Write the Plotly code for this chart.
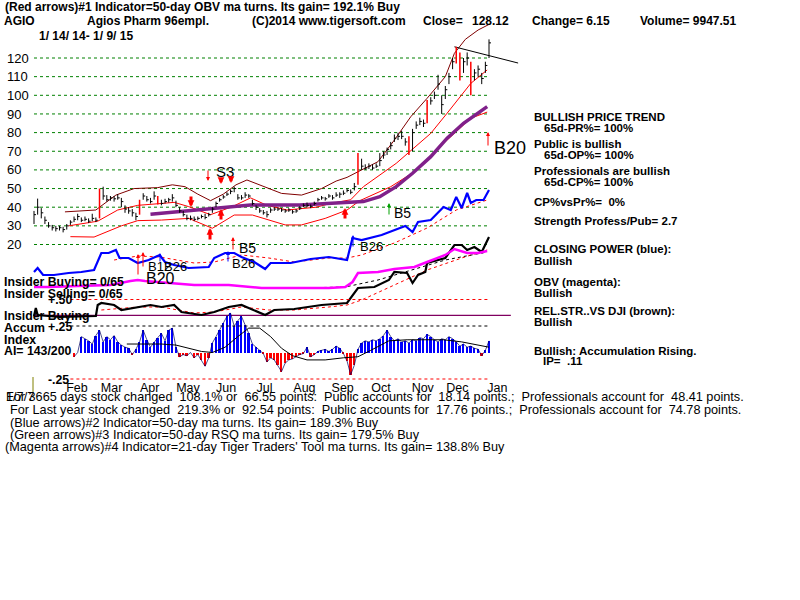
import plotly.graph_objects as go

FONT = "Liberation Sans, Arial, sans-serif"
NB = "\u00a0"

# ---------------- data ----------------
bar_days = list(range(0, 251, 2))
close = [36, 40, 37, 33, 30, 29, 28.5, 29, 28, 30,
         32, 33.5, 35, 33, 33.5, 32.5, 34, 33, 45, 46,
         44, 45, 44.5, 45, 43, 39, 38, 37, 35, 42,
         46, 44, 43, 46, 44, 42, 43, 44, 45, 41,
         38, 36, 34, 34, 33.5, 34, 35, 34.5, 36, 39,
         42, 44, 45.5, 47, 48.5, 50, 45, 45, 46.5, 46,
         42, 40, 38, 37, 36, 38.5, 39, 39, 38.5, 38,
         38.5, 37.5, 38, 39.5, 41, 41, 40.5, 42, 44, 45,
         44.5, 46, 45, 46.5, 47, 47.5, 49, 48, 51, 63,
         62, 61, 62, 61, 62, 65, 68, 71, 73, 77,
         78, 78, 75, 70, 80, 84, 86, 85, 96, 97,
         100, 106, 95, 103, 110, 118, 124, 110, 118, 120,
         108, 112, 114, 109, 116, 128.12]
high = [38, 44.6, 39.5, 35, 32, 30.5, 30, 30, 29.5, 31,
        33, 35, 36.5, 34.5, 35, 34, 36.5, 34.5, 50, 51,
        46.5, 46, 46, 47, 45, 41, 40, 39, 37, 44,
        47.5, 46, 45, 48.5, 46, 44, 44.5, 45, 47, 43.5,
        40, 38, 36, 35.5, 35, 35, 36, 36.5, 37, 40,
        43, 45, 46.5, 48, 49.5, 51, 47, 46.5, 48, 47,
        44, 41, 39.5, 38.5, 38, 39.5, 40, 40, 39.5, 39,
        39.5, 38.5, 39, 40.5, 42, 42.5, 41.5, 43, 45, 46,
        45.5, 47, 46.5, 48, 48, 49, 50, 49.5, 53, 69,
        66, 63, 63.5, 63, 63.5, 69, 70, 72, 75, 79,
        80, 81, 77, 78, 82, 86, 88, 87, 97.5, 99,
        102, 111, 100, 105, 112, 120, 126, 123, 120, 123,
        118, 114, 116, 112, 118, 130]
low = [31, 36, 34, 31, 29, 27.5, 27, 27.5, 26.5, 28,
       30.5, 32, 33, 32, 32.5, 31.5, 32.5, 32, 34, 44,
       43, 43.5, 43, 44, 40, 37, 36.5, 35, 33, 36,
       44, 43, 42, 44, 41.5, 41, 42, 42.5, 43, 40,
       37, 35, 33, 33, 32.5, 33, 34, 33.5, 35, 37,
       40, 43, 44.5, 46, 47, 48, 44, 44, 45, 45,
       41, 38.5, 37, 36, 34.5, 37, 38, 38, 37.5, 37,
       37.5, 36.5, 37, 38.5, 40, 40, 39.5, 41, 43, 44,
       43.5, 45, 44, 45.5, 45, 46.5, 48, 47, 49, 52,
       60, 60, 60.5, 60, 61, 62, 66, 68, 71, 75,
       76, 76.5, 73, 68, 70, 82, 84, 83, 85, 95,
       98, 103, 90, 98, 106, 114, 117, 108, 112, 116,
       100, 108, 110, 106, 112, 120]
red_days = [36, 58, 68, 178, 206, 216, 232, 234, 240]

month_names = ["Feb", "Mar", "Apr", "May", "Jun", "Jul", "Aug", "Sep", "Oct", "Nov", "Dec", "Jan"]
month_start = [14, 33, 54, 75, 96, 117, 139, 160, 181, 204, 223, 245]
price_ticks = [20, 30, 40, 50, 60, 70, 80, 90, 100, 110, 120]

upper_x = [17, 34, 36, 45, 55, 68, 76, 83, 90, 97, 104, 111, 117, 126, 136, 147, 158, 166, 172, 178, 189, 198, 207, 216, 226, 231, 237, 244, 250]
upper_y = [37.5, 38.5, 40, 46.5, 50, 50.5, 52, 51, 47, 43.5, 47, 52, 54.6, 51, 47.4, 46.5, 50, 54, 56, 59, 64.4, 76, 88.5, 98.4, 110, 122.5, 130, 135, 138]
mid_x = [19, 35, 46, 57, 70, 77, 85, 97, 109, 119, 128, 139, 155, 163, 174, 181, 199, 218, 227, 240, 249]
mid_y = [30, 32.5, 38.5, 41, 42, 42.6, 40.3, 36, 40.3, 45, 41, 38.5, 40, 42, 44, 51, 63.5, 79.6, 90.4, 106.4, 113.6]
lowb_x = [20, 33, 48, 57, 70, 85, 98, 110, 120, 138, 147, 160, 172, 179, 196, 209, 227, 240, 249]
lowb_y = [24.2, 24, 30, 32.8, 33.1, 34, 28.7, 35.8, 35.8, 30.5, 30.5, 34, 38.5, 43.5, 51, 59, 76, 87.7, 91]
ma_x = [64, 97, 119, 146, 174, 181, 190, 199, 208, 218, 227, 236, 249]
ma_y = [36.2, 39.4, 41.2, 41.2, 43, 43, 45.6, 51, 58.2, 67.1, 77, 85, 93.9]
trend_x = [231, 266]
trend_y = [126, 117.3]

# indicator levels (arbitrary units)
cp_x = [0, 2, 5, 11, 19, 26, 33, 35, 37, 41, 45, 47, 52, 57, 63, 69, 72, 77, 85, 96, 99, 105, 110, 114, 121, 127, 130, 141, 152, 162, 172, 175, 180, 191, 198, 204, 208, 211, 218, 225, 229, 232, 235, 238, 240, 243, 247, 250]
cp_y = [28, 32, 25, 25, 27, 28, 30, 38, 47, 47, 50, 42, 42, 37, 40, 45, 38, 35, 32, 33, 42, 47, 47, 43, 38, 31, 37, 37, 41, 43, 40, 62, 60, 65, 70, 74, 68, 78, 80, 93, 90, 103, 92, 107, 97, 100, 100, 110]
cpma_x = [44, 57, 69, 88, 99, 114, 129, 143, 162, 172, 180, 198, 216, 232, 249]
cpma_y = [40, 44, 43, 37, 38, 45, 42, 38, 42, 42, 45, 57, 72, 90, 100]
obv_x = [0, 8, 24, 42, 53, 57, 61, 74, 88, 107, 125, 143, 162, 171, 175, 178, 189, 198, 209, 216, 226, 231, 238, 244, 249]
obv_y = [13, 13, 14, 15, 19, 20, 19, 17, 15, 15, 12, 12, 12, 13, 18, 27, 28, 31, 33, 38, 45, 51, 47, 47, 49]
obvma_x = [146, 171, 189, 207, 226, 249]
obvma_y = [12, 13, 20, 30, 40, 48]
rs_x = [0, 1, 2, 14, 34, 35, 37, 44, 48, 57, 64, 70, 77, 81, 92, 99, 107, 114, 121, 127, 132, 143, 158, 172, 178, 187, 195, 198, 205, 208, 211, 215, 216, 226, 231, 235, 238, 242, 246, 250]
rs_y = [-16, -8, -15, -17, -16, -5, -3, -5, -10, -7, -5, -7, -5, -12, -15, -12, -7, -5, -10, -15, -10, -9, -5, -3, 12, 13, 20, 28, 27, 17, 25, 28, 37, 42, 55, 55, 50, 53, 48, 63]
rsma_x = [37, 57, 70, 88, 99, 114, 129, 143, 162, 172, 180, 198, 216, 235, 249]
rsma_y = [-10, -7, -7, -13, -12, -7, -10, -10, -7, -5, 0, 15, 30, 42, 50]
insider_x = [0, 262]
insider_y = [-15.3, -15.3]

ai_days = list(range(22, 251, 2))
ai = [-0.04, 0.00, 0.15, 0.13, 0.11, 0.08, 0.16, 0.21, 0.10, 0.15,
      0.12, 0.16, 0.10, 0.07, 0.05, 0.04, -0.02, 0.03, 0.10, 0.21,
      0.12, 0.05, 0.10, 0.14, 0.18, 0.11, 0.21, 0.23, 0.05, -0.04,
      -0.02, -0.03, 0.00, -0.05, -0.02, -0.07, -0.13, -0.05, 0.09, 0.15,
      0.21, 0.28, 0.34, 0.37, 0.25, 0.30, 0.34, 0.26, 0.18, 0.08,
      0.05, 0.02, -0.01, -0.09, -0.05, -0.07, -0.12, -0.18, -0.10, -0.07,
      -0.06, -0.04, -0.02, -0.01, 0.05, -0.04, -0.02, 0.01, 0.02, 0.03,
      0.01, 0.03, 0.06, 0.04, -0.01, -0.08, -0.21, -0.12, 0.03, 0.09,
      0.11, 0.10, 0.12, 0.11, 0.13, 0.16, 0.21, 0.15, 0.11, 0.13,
      0.10, 0.11, 0.09, 0.12, 0.11, 0.14, 0.13, 0.17, 0.15, 0.12,
      0.10, 0.13, 0.12, 0.15, 0.13, 0.10, 0.06, 0.08, 0.05, 0.06,
      0.04, 0.03, -0.03, 0.02, 0.11]
aima_x = [51, 60, 70, 78, 85, 92, 98, 105, 112, 118, 124, 130, 136, 142, 150, 160, 170, 178, 185, 195, 205, 215, 225, 235, 245, 250]
aima_y = [0.08, 0.08, 0.08, 0.07, 0.04, 0.01, 0.0, 0.05, 0.15, 0.23, 0.23, 0.15, 0.04, -0.03, -0.07, -0.07, -0.05, -0.04, 0.02, 0.11, 0.12, 0.12, 0.12, 0.10, 0.07, 0.05]
ai_levels = [0.5, 0.25, -0.25]
ai_level_colors = ["#ff0000", "#000000", "#ff0000"]

# ---------------- pixel geometry of the picture ----------------
W, H = 800, 600
X0, DX = 34.0, 1.82          # day 0 at x=34px, 1.82 px/day
PY20, PPU = 244.5, 1.865     # price 20 at y=244.5px, 1.865 px per $
AI0, AIPU = 352.5, 106.0     # AI zero line and px per AI unit
IND0 = 300.0                 # indicator level 0 at y=300px

def prange():
    return [20 - (H - PY20) / PPU, 20 + PY20 / PPU]

fig = go.Figure()

def seg_trace(xs, ys, color, width, dash="solid", yaxis="y"):
    fig.add_trace(go.Scatter(x=xs, y=ys, mode="lines", yaxis=yaxis,
                             line=dict(color=color, width=width, dash=dash),
                             hoverinfo="skip", connectgaps=False))

# price gridlines
gx, gy = [], []
for t in price_ticks:
    gx += [bar_days[0], bar_days[-1], None]
    gy += [t, t, None]
seg_trace(gx, gy, "#008000", 1, "dot")

# AI level lines
for lv, col in zip(ai_levels, ai_level_colors):
    seg_trace([20, 250], [lv, lv], col, 1, "dot", "y3")

# AI histogram
fig.add_trace(go.Bar(x=ai_days, y=ai, yaxis="y3", width=1.0,
                     marker=dict(color=["#0000ff" if v >= 0 else "#ff0000" for v in ai],
                                 line=dict(width=0)), hoverinfo="skip"))
seg_trace(ai_days, ai, "#000060", 0.7, "solid", "y3")
seg_trace(aima_x, aima_y, "#000000", 1, "solid", "y3")

# indicators
seg_trace(insider_x, insider_y, "#800060", 1.2, "solid", "y2")
seg_trace(rsma_x, rsma_y, "#ff0000", 1, "dot", "y2")
seg_trace(rs_x, rs_y, "#000000", 2.2, "solid", "y2")
seg_trace(obvma_x, obvma_y, "#000000", 1, "dot", "y2")
seg_trace(obv_x, obv_y, "#ff00ff", 2.5, "solid", "y2")
seg_trace(cpma_x, cpma_y, "#ff0000", 1, "dot", "y2")
seg_trace(cp_x, cp_y, "#0000ff", 2.2, "solid", "y2")

# price bands
seg_trace(upper_x, upper_y, "#800000", 1)
seg_trace(mid_x, mid_y, "#ff0000", 1)
seg_trace(lowb_x, lowb_y, "#ff0000", 1)
seg_trace(ma_x, ma_y, "#80208a", 3.5)
seg_trace(trend_x, trend_y, "#000000", 1)

# price bars
bx, by, rx, ry, cx, cy = [], [], [], [], [], []
for d, c, h, l in zip(bar_days, close, high, low):
    if d in red_days:
        rx += [d, d, None]; ry += [l, h, None]
    else:
        bx += [d, d, None]; by += [l, h, None]
        cx += [d, d + 1.1, None]; cy += [c, c, None]
seg_trace(bx, by, "#000000", 1)
seg_trace(cx, cy, "#000000", 1)
seg_trace(rx, ry, "#ff0000", 1.5)

# ---------------- texts ----------------
ann = []
def T(x, y, s, size=12, bold=False, color="black", anchor="left"):
    s = s.replace("  ", NB + NB)
    ann.append(dict(x=x / W, y=1 - y / H, xref="paper", yref="paper",
                    text=("<b>%s</b>" % s) if bold else s, showarrow=False,
                    xanchor=anchor, yanchor="middle",
                    font=dict(size=size, color=color, family=FONT)))

def A(x, ytip, ytail, color, width=1, head=2, size=0.8):
    ann.append(dict(x=x / W, y=1 - ytip / H, xref="paper", yref="paper",
                    ax=0, ay=ytail - ytip, text="", showarrow=True,
                    arrowhead=head, arrowsize=size, arrowwidth=width, arrowcolor=color))

HB = 12
T(3, 7, "(Red arrows)#1 Indicator=50-day OBV ma turns. Its gain= 192.1% Buy", HB, True)
T(2, 21, "AGIO", HB, True)
T(85, 21, "Agios Pharm 96empl.", HB, True)
T(250, 21, "(C)2014 www.tigersoft.com", HB, True)
T(421, 21, "Close=", HB, True)
T(470, 21, "128.12", HB, True)
T(530, 21, "Change= 6.15", HB, True)
T(638, 21, "Volume= 9947.51", HB, True)
T(37, 36, "1/ 14/ 14- 1/ 9/ 15", HB, True)

RB = 11.5
for x, y, s in [(532, 117, "BULLISH PRICE TREND"), (542, 128, "65d-PR%= 100%"),
                (532, 144, "Public is bullish"), (542, 155, "65d-OP%= 100%"),
                (532, 171, "Professionals are bullish"), (542, 182, "65d-CP%= 100%"),
                (532, 202, "CP%vsPr%=  0%"), (532, 221, "Strength Profess/Pub= 2.7"),
                (532, 249, "CLOSING POWER (blue):"), (532, 261, "Bullish"),
                (532, 282, "OBV (magenta):"), (532, 293, "Bullish"),
                (532, 311, "REL.STR..VS DJI (brown):"), (532, 322, "Bullish"),
                (532, 351, "Bullish: Accumulation Rising."), (541, 361, "IP=  .11")]:
    T(x, y, s, RB, True)

LB = 12.3
T(2, 282, "Insider Buying= 0/65", LB, True)
T(2, 294, "Insider Selling= 0/65", LB, True)
T(46, 300, "+.50", LB, True)
T(2, 316, "Insider Buying", LB, True)
T(2, 328, "Accum", LB, True)
T(46, 327, "+.25", LB, True)
T(2, 340, "Index", LB, True)
T(2, 351, "AI= 143/200", LB, True)
T(46, 380, "-.25", LB, True)

BR = 12.7
T(4, 397, "For 3665 days stock changed  108.1% or  66.55 points:  Public accounts for  18.14 points.;  Professionals account for  48.41 points.", BR)
T(4, 397, "1/7/7", BR)
T(8, 410, "For Last year stock changed  219.3% or  92.54 points:  Public accounts for  17.76 points.;  Professionals account for  74.78 points.", BR)
T(8, 423, "(Blue arrows)#2 Indicator=50-day ma turns. Its gain= 189.3% Buy", BR)
T(8, 435, "(Green arrows)#3 Indicator=50-day RSQ ma turns. Its gain= 179.5% Buy", BR)
T(3, 447, "(Magenta arrows)#4 Indicator=21-day Tiger Traders' Tool ma turns. Its gain= 138.8% Buy", BR)

# signal labels
T(214, 172, "S3", 15)
T(237, 248, "B5", 14)
T(230, 264, "B26", 13)
T(392, 213, "B5", 14)
T(358, 247, "B26", 13)
T(492, 148, "B20", 18)
T(144, 278, "B20", 16)
T(146, 266, "B12", 13)
T(162, 266, "B26", 13)

# thick red arrows
for x, yt, yb in [(210, 228, 241), (221, 209, 221), (345, 208, 220)]:
    A(x, yt, yb, "#ff0000", 3, 2, 0.45)
for x, yt, yb in [(191, 207, 195), (221, 184, 177), (231, 183, 177)]:
    A(x, yt, yb, "#ff0000", 3, 2, 0.45)
# thin arrows
A(208, 181, 169, "#ff0000")
A(233, 237, 251, "#ff0000")
A(228, 251, 263, "#0000ff")
A(389, 203, 216, "#00a000")
A(353, 235, 248, "#0000ff")
A(488, 132, 147, "#ff0000")
A(138, 254, 276, "#ff0000")
A(143, 252, 268, "#ff0000")
A(160, 253, 263, "#0000ff")

shapes = [dict(type="line", xref="paper", yref="paper", x0=33 / W, x1=33 / W,
               y0=1 - 377 / H, y1=1 - 392 / H, line=dict(color="#808000", width=1))]

tick_pos = [m + 9.6 for m in month_start]

fig.update_layout(
    width=W, height=H, margin=dict(l=0, r=0, t=0, b=0),
    paper_bgcolor="white", plot_bgcolor="white", showlegend=False,
    annotations=ann, shapes=shapes, bargap=0,
    xaxis=dict(domain=[0, 1], range=[-X0 / DX, (W - X0) / DX], anchor="free",
               position=1 - 378 / H, showgrid=False, zeroline=False, showline=False,
               ticks="", tickvals=tick_pos, ticktext=month_names,
               tickfont=dict(size=12.5, color="black", family=FONT)),
    yaxis=dict(domain=[0, 1], range=prange(), anchor="x", showgrid=False, zeroline=False,
               showline=False, ticks="", tickvals=price_ticks, ticklabelposition="inside",
               ticklabelstandoff=4,
               tickfont=dict(size=13, color="black", family=FONT), tickprefix="<b>", ticksuffix="</b>"),
    yaxis2=dict(overlaying="y", anchor="x", range=[IND0 - H, IND0], visible=False),
    yaxis3=dict(overlaying="y", anchor="x", range=[-(H - AI0) / AIPU, AI0 / AIPU], visible=False),
)

fig.write_html("out.html")
